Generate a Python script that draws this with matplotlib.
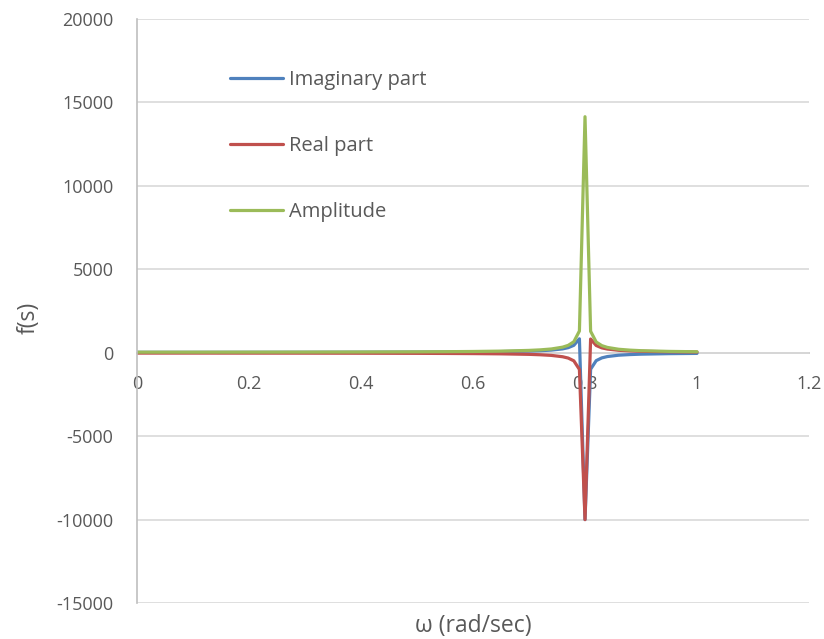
import numpy as np
import matplotlib.pyplot as plt

plt.rcParams['font.family'] = ['Open Sans', 'DejaVu Sans']
plt.rcParams['axes.unicode_minus'] = False

# frequency samples (rad/sec)
omega = [0, 0.1, 0.2, 0.3, 0.4, 0.5, 0.55, 0.6, 0.65, 0.7, 0.72, 0.74, 0.76,
         0.77, 0.78, 0.79, 0.8, 0.81, 0.82, 0.83, 0.84, 0.86, 0.88, 0.9, 0.95, 1.0]

imag_part = [23, 23, 25, 27, 31, 38, 44, 53, 68, 98, 120, 157, 230,
             303, 443, 833, -10000, -989, -474, -310, -229, -149, -111, -87, -56, -41]

real_part = [-23, -23, -25, -27, -31, -38, -44, -53, -68, -98, -122, -161, -241,
             -321, -485, -1001, -10000, 821, 432, 291, 219, 145, 108, 86, 56, 41]

amplitude = [33, 33, 35, 38, 43, 53, 62, 74, 96, 139, 171, 225, 333,
             441, 656, 1302, 14142, 1285, 641, 425, 317, 208, 155, 122, 79, 58]

x_ticks = [0, 0.2, 0.4, 0.6, 0.8, 1, 1.2]
x_tick_labels = ['0', '0.2', '0.4', '0.6', '0.8', '1', '1.2']
y_ticks = [-15000, -10000, -5000, 0, 5000, 10000, 15000, 20000]

fig = plt.figure(figsize=(8.24, 6.39), dpi=100)
ax = fig.add_axes([0.1663, 0.0563, 0.8155, 0.914])

ax.plot(omega, imag_part, color='#4f81bd', lw=2.3, label='Imaginary part', solid_capstyle='round')
ax.plot(omega, real_part, color='#c0504d', lw=2.3, label='Real part', solid_capstyle='round')
ax.plot(omega, amplitude, color='#9bbb59', lw=2.3, label='Amplitude', solid_capstyle='round')

ax.set_xlim(0, 1.2)
ax.set_ylim(-15000, 20000)
ax.set_xticks(x_ticks)
ax.set_xticklabels(x_tick_labels)
ax.set_yticks(y_ticks)

# gridlines and axes in Excel style
ax.grid(axis='y', color='#d9d9d9', lw=1.2)
ax.set_axisbelow(True)
for s in ['top', 'right']:
    ax.spines[s].set_visible(False)
ax.spines['left'].set_color('#bfbfbf')
ax.spines['left'].set_linewidth(1.2)
ax.spines['bottom'].set_position(('data', 0))
ax.spines['bottom'].set_color('#bfbfbf')
ax.spines['bottom'].set_linewidth(1.2)
ax.spines['bottom'].set_zorder(0.5)

ax.tick_params(axis='both', length=0, labelsize=13, labelcolor='#595959')
ax.tick_params(axis='x', pad=16)
ax.tick_params(axis='y', pad=17)

ax.set_xlabel('ω (rad/sec)', fontsize=16.5, color='#595959')
ax.set_ylabel('f(s)', fontsize=16.5, color='#595959')
ax.xaxis.set_label_coords(0.5, -0.019)
ax.yaxis.set_label_coords(-0.144, 0.488)

leg = ax.legend(loc='upper left', bbox_to_anchor=(0.138, 0.9125), frameon=False,
                fontsize=14.5, handlelength=2.63, handletextpad=0.3,
                labelspacing=2.29, borderpad=0, borderaxespad=0)
for t in leg.get_texts():
    t.set_color('#595959')

fig.savefig('out.png', dpi=100)
